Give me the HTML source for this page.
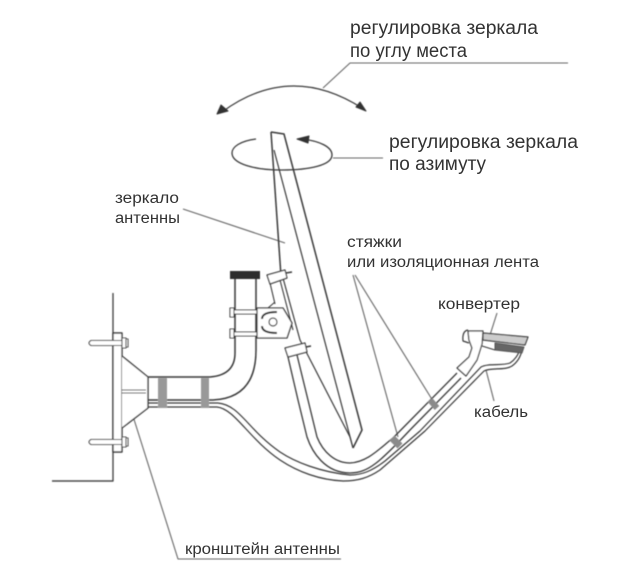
<!DOCTYPE html>
<html><head><meta charset="utf-8"><style>
html,body{margin:0;padding:0;background:#fff;width:640px;height:573px;overflow:hidden}
svg{display:block}
text{font-family:"Liberation Sans",sans-serif;fill:#333;filter:url(#t)}
</style></head><body>
<svg width="640" height="573" viewBox="0 0 640 573" xmlns="http://www.w3.org/2000/svg">
<defs>
<filter id="b" x="-5%" y="-5%" width="110%" height="110%"><feGaussianBlur stdDeviation="0.45"/></filter>
<filter id="t" x="-5%" y="-20%" width="110%" height="140%"><feGaussianBlur stdDeviation="0.35"/></filter>
</defs>
<rect width="640" height="573" fill="#fff"/>
<g filter="url(#b)" fill="none" stroke="#3a3a3a" stroke-width="1.4" stroke-linejoin="round">
<!-- leaders -->
<g stroke="#666" stroke-width="1.1">
<path d="M323 88L350 63H568"/>
<path d="M333 158H383"/>
<path d="M183 209L285 243"/>
<path d="M132 413L178 559H341"/>
<path d="M353 275L398 437"/>
<path d="M355 275L433 401"/>
<path d="M497 313L490 335"/>
<path d="M486 370L494 401"/>
</g>
<!-- wall -->
<path d="M113 293V481H52" stroke="#4a4a4a"/>
<rect x="113" y="333" width="9" height="119" fill="#fff"/>
<!-- bolts -->
<g fill="#fff" stroke="#4a4a4a" stroke-width="1.1">
<path d="M91 340.500H122V345.500H91Q87 343 91 340.500Z"/>
<path d="M91 439.500H122V444.500H91Q87 442 91 439.500Z"/>
<rect x="122" y="338" width="4" height="10"/><rect x="122" y="437" width="4" height="10"/>
<rect x="126" y="339" width="2" height="8"/><rect x="126" y="438" width="2" height="8"/>
</g>
<!-- cone -->
<path d="M122 356L148 377V408L122 428" fill="#fff"/>
<path d="M122 390H146M122 393H146" stroke-width="1"/>
<!-- mast -->
<path d="M148 377H210Q235 375 235 353V278M256 278V350Q256 398 213 400H148" stroke-width="1.5"/>
<path d="M148 403H218M148 407H217" stroke-width="1.2"/>
<rect x="230" y="271" width="30" height="8" fill="#2e2e2e" stroke="none"/>
<rect x="158" y="378" width="9" height="30" fill="#999" stroke="none"/>
<rect x="201" y="378" width="8" height="30" fill="#999" stroke="none"/>
<!-- cable -->
<path d="M218 403C240 405 248 430 280 452C295 462 320 472 350 475C362 475 372 471 385 461L420 431L481 367C488 363 502 366 510 363C516 359 518 354 520 350" stroke-width="1.2"/>
<path d="M217 407C235 409 248 438 280 460C298 472 320 480 343 481C358 481 368 478 380 470L425 431L484 371C492 367 504 371 512 366C519 361 521 355 522 350" stroke-width="1.2"/>
<!-- arm -->
<path d="M288 357L298 400L307 437C312 452 325 473 350 473C368 473 380 462 410 430L461 378" stroke-width="1.3"/>
<path d="M297 355L308 400L317 437C323 452 335 463 350 463C368 462 380 448 393 438L457 373" stroke-width="1.3"/>
<!-- mirror -->
<path d="M271 132L284 134L362 430L353 448" stroke-width="1.5"/>
<path d="M271 132L281 276" stroke-width="1.5"/>
<path d="M274 150L353 448" stroke-width="1.2"/>
<path d="M283 278L300 340L350 437L353 448" stroke-width="1.2"/>
<path d="M280 280L293 330" stroke-width="1.1"/>
<path d="M270 283L275 304M268 308L275 302" stroke-width="1.1"/>
<!-- bracket bolts -->
<g stroke-width="1.1" fill="#fff">
<path d="M231 310H258V314H231ZM231 332H258V336H231Z"/>
<rect x="230" y="308" width="4" height="9"/><rect x="230" y="329" width="4" height="9"/>
</g>
<path d="M257 308H283L292 323L287 338H257Z" fill="#fff" stroke-width="1.3"/>
<path d="M277 312C268 312 262 314 262 319" stroke="#2e2e2e" stroke-width="2"/>
<path d="M277 333C268 333 262 331 262 326" stroke="#2e2e2e" stroke-width="2"/>
<circle cx="273" cy="322" r="4" fill="#fff" stroke-width="1.2"/>
<path d="M267 275L285 270L287 278L270 284Z" fill="#fff" stroke-width="1.2"/>
<path d="M286 273L292 272" stroke-width="1.6"/>
<path d="M285 348L305 343L307 352L288 357Z" fill="#fff" stroke-width="1.2"/>
<path d="M306 347L311 346" stroke-width="1.6"/>
<!-- clamps on arm -->
<path d="M392 438L400 446" stroke="#8a8a8a" stroke-width="7"/>
<path d="M430 400L437 408" stroke="#8a8a8a" stroke-width="6"/>
<!-- LNB feed -->
<path d="M457 368L469 357L472 348L469 340L468 331L483 331L482 344L477 360L466 376Z" fill="#fff" stroke-width="1.2"/>
<path d="M468 330Q462 331 463 341L469 343" stroke-width="1.2"/>
<path d="M483 333L528 337L525 345L483 340Z" fill="#ccc" stroke-width="1.2"/>
<path d="M495 343L524 347L522 353L495 350Z" fill="#666" stroke="#555" stroke-width="1"/>
<path d="M482 346L495 350" stroke-width="1.1"/>
<!-- arcs -->
<path d="M222 112Q290 62 362 108" stroke-width="1.2"/>
<path d="M217 114L221 105L228 111Z" fill="#333" stroke="#333" stroke-width="1"/>
<path d="M366 111L356 107L360 102Z" fill="#333" stroke="#333" stroke-width="1"/>
<path d="M256 139C240 141 232 147 232 153C232 164 255 170 282 170C310 170 332 165 332 155C332 147 320 141 302 139" stroke-width="1.3"/>
<path d="M297 139L309 136L308 143Z" fill="#333" stroke="#333" stroke-width="1"/>
</g>
<text x="350" y="34" font-size="19" textLength="188" lengthAdjust="spacingAndGlyphs">регулировка зеркала</text>
<text x="350" y="57" font-size="19" textLength="117" lengthAdjust="spacingAndGlyphs">по углу места</text>
<text x="389" y="148" font-size="19" textLength="189" lengthAdjust="spacingAndGlyphs">регулировка зеркала</text>
<text x="389" y="170" font-size="19" textLength="97" lengthAdjust="spacingAndGlyphs">по азимуту</text>
<text x="115" y="203" font-size="15.500" textLength="64" lengthAdjust="spacingAndGlyphs">зеркало</text>
<text x="115" y="223" font-size="15.500" textLength="65" lengthAdjust="spacingAndGlyphs">антенны</text>
<text x="347" y="247" font-size="15.500" textLength="55" lengthAdjust="spacingAndGlyphs">стяжки</text>
<text x="347" y="267" font-size="15.500" textLength="192" lengthAdjust="spacingAndGlyphs">или изоляционная лента</text>
<text x="438" y="309" font-size="15.500" textLength="82" lengthAdjust="spacingAndGlyphs">конвертер</text>
<text x="474" y="417" font-size="15.500" textLength="54" lengthAdjust="spacingAndGlyphs">кабель</text>
<text x="185" y="554" font-size="15.500" textLength="155" lengthAdjust="spacingAndGlyphs">кронштейн антенны</text>
</svg>
</body></html>
